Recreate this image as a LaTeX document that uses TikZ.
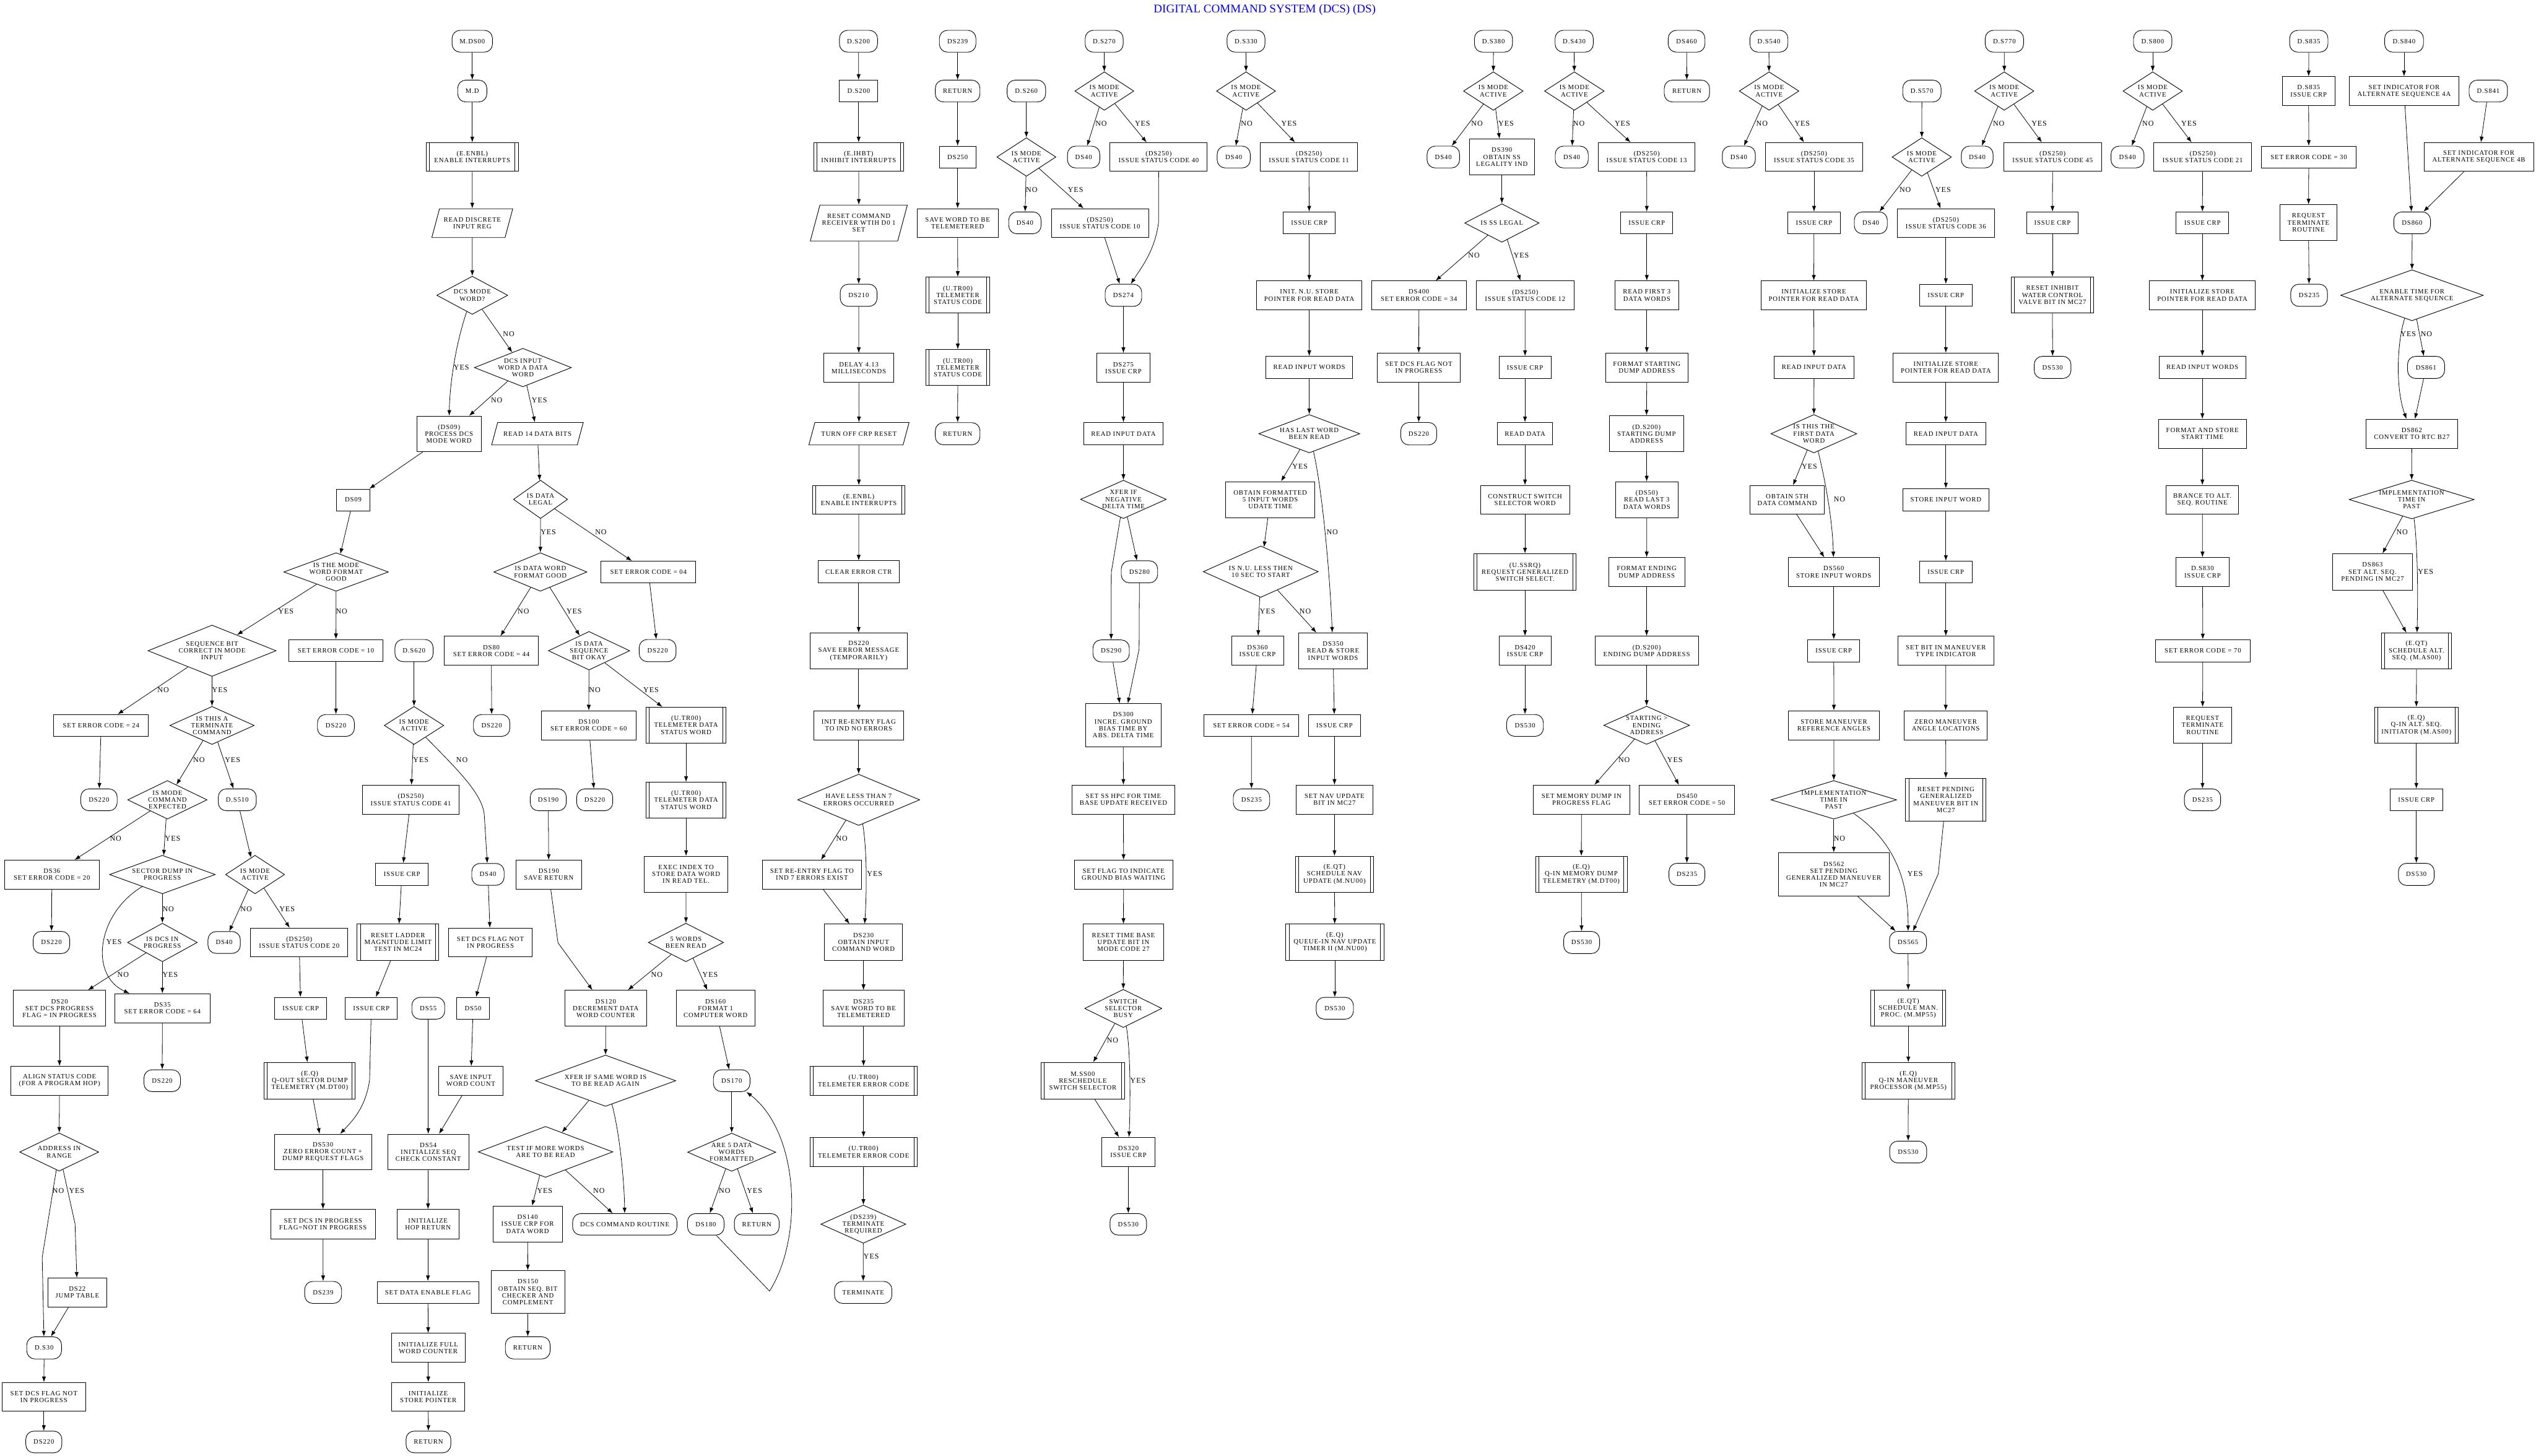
\documentclass[tikz,border=0pt]{standalone}
\usepackage{fontspec}
\setmainfont{Liberation Serif}[LetterSpace=8]
\newfontfamily\titlefont{Liberation Serif}
\usetikzlibrary{shapes.geometric,arrows.meta}
\tikzset{
 every node/.style={font=\fontsize{4.1}{4.3}\selectfont},
 nd/.style={draw,line width=0.35pt,inner sep=0pt,align=center},
 box/.style 2 args={nd,rectangle,minimum width=#1,minimum height=#2},
 pre/.style 2 args={box={#1}{#2},path picture={\draw[line width=0.35pt] ([xshift=2pt]path picture bounding box.north west) -- ([xshift=2pt]path picture bounding box.south west) ([xshift=-2pt]path picture bounding box.north east) -- ([xshift=-2pt]path picture bounding box.south east);}},
 term/.style 2 args={nd,rectangle,rounded corners=5pt,minimum width=#1,minimum height=#2},
 txt/.style={align=center,inner sep=0pt},
 dec/.style n args={3}{nd,diamond,minimum width=#1,minimum height=#2,label={[txt]center:{#3}}},
 io/.style n args={3}{draw,line width=0.35pt,inner sep=0pt,trapezium,trapezium left angle=75,trapezium right angle=105,text width=#1,text height=#2,text depth=0pt,label={[txt]center:{#3}}},
 lab/.style={font=\fontsize{4.6}{5}\selectfont,inner sep=0pt},
 arr/.style={line width=0.3pt,-{Latex[length=3.5pt,width=2.5pt]}},
}
\begin{document}
\begin{tikzpicture}[x=1pt,y=-1pt]
\useasboundingbox (0,0) rectangle (1568,900);
\node[font=\titlefont\fontsize{7.3}{8}\selectfont,text=blue,inner sep=0pt] (title) at (782,6) {DIGITAL COMMAND SYSTEM (DCS) (DS)};

% ---------------- main column
\node[term={25}{13.5}] (mds00) at (292,25.5) {M.DS00};
\node[term={18}{13.5}] (md) at (292,56.3) {M.D};
\node[pre={56.8}{17.8}] (enbl1) at (292,97.1) {(E.ENBL)\\ENABLE INTERRUPTS};
\node[io={40.5pt}{17.8pt}{READ DISCRETE\\INPUT REG}] (rdi) at (292,138) {};
\node[dec={43.9}{23.6}{DCS MODE\\WORD?}] (dmw) at (292,182.6) {};
\node[dec={60}{23.8}{DCS INPUT\\WORD A DATA\\WORD}] (dinw) at (323.3,227.3) {};
\node[box={39.8}{22}] (pds09) at (277.6,268.3) {(DS09)\\PROCESS DCS\\MODE WORD};
\node[io={49.2pt}{13.9pt}{READ 14 DATA BITS}] (r14) at (332.3,268.2) {};
\node[box={20.8}{13.4}] (ds09) at (218.4,309.1) {DS09};
\node[dec={33.5}{23.7}{IS DATA\\LEGAL}] (idl) at (334.2,308.8) {};
\node[dec={64.7}{23.8}{IS THE MODE\\WORD FORMAT\\GOOD}] (imwf) at (207.8,353.7) {};
\node[dec={57.6}{23.8}{IS DATA WORD\\FORMAT GOOD}] (idwf) at (334.1,353.7) {};
\node[box={58.7}{13.4}] (e04) at (400.9,353.7) {SET ERROR CODE = 04};
\node[dec={79.2}{31.7}{SEQUENCE BIT\\CORRECT IN MODE\\INPUT}] (sbc) at (131.1,402.4) {};
\node[box={58.4}{13.7}] (e10) at (207.7,402.3) {SET ERROR CODE = 10};
\node[term={23.6}{13.7}] (ds620) at (256,402.3) {D.S620};
\node[box={58.4}{17.9}] (ds80) at (303.8,402.4) {DS80\\SET ERROR CODE = 44};
\node[dec={50.3}{23.8}{IS DATA\\SEQUENCE\\BIT OKAY}] (idsb) at (364.2,402.4) {};
\node[term={22.8}{13.7}] (t220a) at (406.6,402.3) {DS220};
\node[pre={49.5}{22.2}] (utr1) at (424.2,448.4) {(U.TR00)\\TELEMETER DATA\\STATUS WORD};
\node[box={58.6}{13.5}] (e24) at (62.5,448.6) {SET ERROR CODE = 24};
\node[dec={52.2}{23.5}{IS THIS A\\TERMINATE\\COMMAND}] (itc) at (131.1,448.6) {};
\node[term={22.8}{13.5}] (t220b) at (207.7,448.6) {DS220};
\node[dec={36.8}{23.5}{IS MODE\\ACTIVE}] (ima620) at (256,448.6) {};
\node[term={22.5}{13.5}] (t220c) at (304,448.6) {DS220};
\node[box={58.5}{18}] (ds100) at (364,448.5) {DS100\\SET ERROR CODE = 60};
\node[term={22.5}{13.5}] (t220d) at (61.2,494.6) {DS220};
\node[dec={49.1}{23.8}{IS MODE\\COMMAND\\EXPECTED}] (imce) at (103.5,494.6) {};
\node[term={23.5}{13.5}] (ds510) at (146.7,494.6) {D.S510};
\node[box={60}{18}] (s41) at (254,494.5) {(DS250)\\ISSUE STATUS CODE 41};
\node[term={22.3}{13.5}] (t190) at (339,494.6) {DS190};
\node[term={22.3}{13.5}] (t220e) at (367.7,494.6) {DS220};
\node[pre={49.5}{22}] (utr2) at (424.2,494.7) {(U.TR00)\\TELEMETER DATA\\STATUS WORD};
\node[box={58.6}{17.8}] (ds36) at (32.1,540.8) {DS36\\SET ERROR CODE = 20};
\node[dec={65.4}{23.8}{SECTOR DUMP IN\\PROGRESS}] (sdp) at (100.4,540.8) {};
\node[dec={36.5}{23.8}{IS MODE\\ACTIVE}] (ima510) at (157.7,540.8) {};
\node[box={32.5}{13.7}] (crp41) at (248.5,540.7) {ISSUE CRP};
\node[term={20}{13.5}] (t40a) at (301.7,540.7) {DS40};
\node[box={40.6}{17.8}] (sr190) at (339.3,540.8) {DS190\\SAVE RETURN};
\node[box={51.5}{22.2}] (exec) at (424.2,540.6) {EXEC INDEX TO\\STORE DATA WORD\\IN READ TEL.};
\node[term={22.6}{13.7}] (t220f) at (31.8,582.8) {DS220};
\node[dec={43.1}{23.8}{IS DCS IN\\PROGRESS}] (idip) at (100.4,582.8) {};
\node[term={20}{13.5}] (t40b) at (138.6,582.8) {DS40};
\node[box={60}{17.8}] (s20) at (185,582.8) {(DS250)\\ISSUE STATUS CODE 20};
\node[pre={50.5}{22.4}] (rlm) at (246.1,582.7) {RESET LADDER\\MAGNITUDE LIMIT\\TEST IN MC24};
\node[box={51.5}{17.8}] (sdfn1) at (303.2,582.8) {SET DCS FLAG NOT\\IN PROGRESS};
\node[dec={46.6}{23.8}{5 WORDS\\BEEN READ}] (fwr) at (424.1,582.8) {};
\node[box={56.8}{22.2}] (ds20) at (36.8,623.5) {DS20\\SET DCS PROGRESS\\FLAG = IN PROGRESS};
\node[box={58.8}{18}] (ds35) at (100.4,623.5) {DS35\\SET ERROR CODE = 64};
\node[box={32.4}{13.5}] (crp20) at (185.9,623.5) {ISSUE CRP};
\node[box={32.2}{13.5}] (crplad) at (229.6,623.5) {ISSUE CRP};
\node[term={20.3}{13.5}] (t55) at (264.8,623.5) {DS55};
\node[box={20.5}{13.5}] (ds50) at (292.5,623.5) {DS50};
\node[box={50.6}{22.2}] (ds120) at (374.5,623.5) {DS120\\DECREMENT DATA\\WORD COUNTER};
\node[box={48.7}{22.2}] (ds160) at (442.4,623.5) {DS160\\FORMAT 1\\COMPUTER WORD};
\node[term={22.6}{13.5}] (t220g) at (100.3,668.3) {DS220};
\node[box={59.9}{17.8}] (align) at (36.8,668.3) {ALIGN STATUS CODE\\(FOR A PROGRAM HOP)};
\node[pre={56.3}{22.5}] (eqout) at (191.5,668.3) {(E.Q)\\Q-OUT SECTOR DUMP\\TELEMETRY (M.DT00)};
\node[box={39.5}{17.8}] (siwc) at (291.1,668.3) {SAVE INPUT\\WORD COUNT};
\node[dec={86.8}{31.7}{XFER IF SAME WORD IS\\TO BE READ AGAIN}] (xfer) at (374.4,668.3) {};
\node[term={22.6}{13.5}] (t170) at (452.4,668.3) {DS170};
\node[dec={48.9}{23.6}{ADDRESS IN\\RANGE}] (air) at (36.6,712.4) {};
\node[box={60.1}{22.1}] (ds530b) at (199.7,712.4) {DS530\\ZERO ERROR COUNT +\\DUMP REQUEST FLAGS};
\node[box={50.2}{22.1}] (ds54) at (264.8,712.4) {DS54\\INITIALIZE SEQ\\CHECK CONSTANT};
\node[dec={83.2}{31.5}{TEST IF MORE WORDS\\ARE TO BE READ}] (timw) at (337.3,712.3) {};
\node[dec={54.5}{23.6}{ARE 5 DATA\\WORDS\\FORMATTED}] (a5f) at (452.4,712.5) {};
\node[box={64.6}{18.2}] (sdnip) at (199.7,757) {SET DCS IN PROGRESS\\FLAG=NOT IN PROGRESS};
\node[box={38.3}{18.2}] (ihr) at (264.6,757) {INITIALIZE\\HOP RETURN};
\node[box={42.9}{22.4}] (ds140) at (326.2,757) {DS140\\ISSUE CRP FOR\\DATA WORD};
\node[term={64.5}{13.3}] (dcr) at (386.3,757.1) {DCS COMMAND ROUTINE};
\node[term={22.6}{13.3}] (t180) at (436.4,757.1) {DS180};
\node[term={27.7}{13.3}] (ret5) at (467.9,757.1) {RETURN};
\node[box={36.2}{17.8}] (ds22) at (47.8,799.2) {DS22\\JUMP TABLE};
\node[term={22.8}{13.6}] (t239b) at (199.8,799.2) {DS239};
\node[box={62.7}{13.6}] (sdef) at (264.6,799.2) {SET DATA ENABLE FLAG};
\node[box={45.6}{26.5}] (ds150) at (326.4,799) {DS150\\OBTAIN SEQ. BIT\\CHECKER AND\\COMPLEMENT};
\node[term={21.5}{13.7}] (ds30) at (27.3,833.5) {D.S30};
\node[box={45.7}{18}] (ifwc) at (264.8,833.5) {INITIALIZE FULL\\WORD COUNTER};
\node[term={27.7}{13.7}] (ret150) at (326.3,833.5) {RETURN};
\node[box={51.7}{17.8}] (sdfn2) at (27.1,863.8) {SET DCS FLAG NOT\\IN PROGRESS};
\node[box={45.1}{17.8}] (isp) at (264.8,863.8) {INITIALIZE\\STORE POINTER};
\node[term={22.3}{13.4}] (t220h) at (27.1,891.7) {DS220};
\node[term={27.7}{13.4}] (retisp) at (264.9,891.7) {RETURN};

% ---------------- D.S200 column
\node[term={23.5}{13.5}] (ds200t) at (530.8,25.5) {D.S200};
\node[box={23.8}{13.5}] (ds200b) at (530.9,56.3) {D.S200};
\node[pre={55.8}{17.8}] (ihbt) at (530.9,97.1) {(E.IHBT)\\INHIBIT INTERRUPTS};
\node[io={48.1pt}{22.2pt}{RESET COMMAND\\RECEIVER WTIH D0 1\\SET}] (rcr) at (531,137.9) {};
\node[term={22.8}{13.7}] (t210) at (530.9,182.6) {DS210};
\node[box={43.4}{18}] (delay) at (531,227.5) {DELAY 4.13\\MILLISECONDS};
\node[io={54.5pt}{13.9pt}{TURN OFF CRP RESET}] (tocr) at (531.1,268.2) {};
\node[pre={57}{17.8}] (enbl2) at (531,309.1) {(E.ENBL)\\ENABLE INTERRUPTS};
\node[box={50.2}{13.6}] (cec) at (530.9,353.6) {CLEAR ERROR CTR};
\node[box={59.8}{22.2}] (ds220s) at (530.9,402.5) {DS220\\SAVE ERROR MESSAGE\\(TEMPORARILY)};
\node[box={55.3}{18}] (ire) at (530.9,448.5) {INIT RE-ENTRY FLAG\\TO IND NO ERRORS};
\node[dec={75.5}{31.7}{HAVE LESS THAN 7\\ERRORS OCCURRED}] (hl7) at (530.9,494.6) {};
\node[box={61.1}{17.8}] (sre) at (502,540.8) {SET RE-ENTRY FLAG TO\\IND 7 ERRORS EXIST};
\node[box={48.2}{22.4}] (ds230) at (533.9,582.7) {DS230\\OBTAIN INPUT\\COMMAND WORD};
\node[box={50.2}{22.2}] (ds235s) at (533.9,623.5) {DS235\\SAVE WORD TO BE\\TELEMETERED};
\node[pre={66.4}{17.8}] (tec1) at (533.9,668.3) {(U.TR00)\\TELEMETER ERROR CODE};
\node[pre={66.4}{17.9}] (tec2) at (533.9,712.3) {(U.TR00)\\TELEMETER ERROR CODE};
\node[dec={52.5}{23.6}{(DS239)\\TERMINATE\\REQUIRED}] (trq) at (533.8,757) {};
\node[term={35.5}{13.6}] (termn) at (533.7,799.2) {TERMINATE};

% ---------------- DS239 column
\node[term={22.6}{13.5}] (t239) at (592.1,25.5) {DS239};
\node[term={27.6}{13.5}] (ret239) at (592.1,56.3) {RETURN};
\node[box={22.6}{13.5}] (ds250) at (592.1,97.1) {DS250};
\node[box={50}{17.9}] (swtb) at (592.1,138) {SAVE WORD TO BE\\TELEMETERED};
\node[pre={39.5}{22.2}] (tsc1) at (592.2,182.5) {(U.TR00)\\TELEMETER\\STATUS CODE};
\node[pre={39.5}{22.2}] (tsc2) at (592.2,227.3) {(U.TR00)\\TELEMETER\\STATUS CODE};
\node[term={27.6}{13.7}] (ret250) at (592.1,268.2) {RETURN};

% ---------------- D.S260 / D.S270 column
\node[term={23.8}{13.5}] (ds260) at (634.6,56.3) {D.S260};
\node[dec={36.5}{23.8}{IS MODE\\ACTIVE}] (ima260) at (634.6,97.1) {};
\node[term={20}{13.5}] (t40c) at (633.7,137.8) {DS40};
\node[box={60.1}{17.9}] (s10) at (680.1,138) {(DS250)\\ISSUE STATUS CODE 10};
\node[term={23.5}{13.5}] (ds270) at (682.7,25.5) {D.S270};
\node[dec={36.5}{23.8}{IS MODE\\ACTIVE}] (ima270) at (682.8,56.3) {};
\node[term={20}{13.5}] (t40d) at (670,97.1) {DS40};
\node[box={60.1}{17.8}] (s40) at (716.4,97.1) {(DS250)\\ISSUE STATUS CODE 40};
\node[term={22.6}{13.7}] (t274) at (694.6,182.6) {DS274};
\node[box={32.7}{18}] (ds275) at (694.6,227.5) {DS275\\ISSUE CRP};
\node[box={48.9}{13.9}] (rid270) at (694.6,268.2) {READ INPUT DATA};
\node[dec={53}{23.7}{XFER IF\\NEGATIVE\\DELTA TIME}] (xneg) at (694.6,308.8) {};
\node[term={22.5}{13.6}] (t280) at (704.5,353.6) {DS280};
\node[term={22.5}{13.6}] (t290) at (687,402.5) {DS290};
\node[box={46.7}{26.5}] (ds300) at (694.5,448.4) {DS300\\INCRE. GROUND\\BIAS TIME BY\\ABS. DELTA TIME};
\node[box={63.9}{18}] (sshpc) at (694.6,494.5) {SET SS HPC FOR TIME\\BASE UPDATE RECEIVED};
\node[box={60.8}{17.8}] (sfgb) at (694.7,540.8) {SET FLAG TO INDICATE\\GROUND BIAS WAITING};
\node[box={49.5}{22.4}] (rtb) at (694.6,582.7) {RESET TIME BASE\\UPDATE BIT IN\\MODE CODE 27};
\node[dec={47.7}{23.6}{SWITCH\\SELECTOR\\BUSY}] (ssb) at (694.5,623.6) {};
\node[pre={51.5}{22.5}] (mss) at (669.5,668.3) {M.SS00\\RESCHEDULE\\SWITCH SELECTOR};
\node[box={32.7}{17.9}] (ds320) at (697.7,712.3) {DS320\\ISSUE CRP};
\node[term={22.6}{13.3}] (t530c) at (697.6,757.1) {DS530};

% ---------------- D.S330 column
\node[term={23.5}{13.5}] (ds330) at (770.4,25.5) {D.S330};
\node[dec={36.5}{23.8}{IS MODE\\ACTIVE}] (ima330) at (770.4,56.3) {};
\node[term={20.5}{13.5}] (t40e) at (762.8,97.1) {DS40};
\node[box={60.2}{17.8}] (s11) at (809.3,97.1) {(DS250)\\ISSUE STATUS CODE 11};
\node[box={32.1}{13.5}] (crp11) at (809.5,137.8) {ISSUE CRP};
\node[box={65.1}{17.7}] (inu) at (809.5,182.6) {INIT. N.U. STORE\\POINTER FOR READ DATA};
\node[box={53.7}{13.7}] (riw330) at (809.5,227.2) {READ INPUT WORDS};
\node[dec={62.5}{23.7}{HAS LAST WORD\\BEEN READ}] (hlw) at (809.5,268.2) {};
\node[box={55.2}{22.3}] (of5) at (785.4,309) {OBTAIN FORMATTED\\5 INPUT WORDS\\UDATE TIME};
\node[dec={71.1}{31.8}{IS N.U. LESS THEN\\10 SEC TO START}] (inul) at (779.5,353.5) {};
\node[box={32.2}{17.9}] (ds360) at (777.5,402.4) {DS360\\ISSUE CRP};
\node[box={42.4}{22.2}] (ds350) at (824.2,402.5) {DS350\\READ \& STORE\\INPUT WORDS};
\node[box={58.6}{13.5}] (e54) at (773.7,448.6) {SET ERROR CODE = 54};
\node[box={32.1}{13.5}] (crp350) at (825.1,448.6) {ISSUE CRP};
\node[term={22.5}{13.5}] (t235a) at (773.8,494.6) {DS235};
\node[box={47.3}{18}] (snav) at (825.1,494.5) {SET NAV UPDATE\\BIT IN MC27};
\node[pre={48.3}{22.2}] (eqtnav) at (825.1,540.6) {(E.QT)\\SCHEDULE NAV\\UPDATE (M.NU00)};
\node[pre={60.6}{22.4}] (eqnav) at (825.3,582.7) {(E.Q)\\QUEUE-IN NAV UPDATE\\TIMER II (M.NU00)};
\node[term={23}{13.5}] (t530d) at (825.3,623.5) {DS530};

% ---------------- D.S380 column
\node[term={23.5}{13.5}] (ds380) at (923.4,25.5) {D.S380};
\node[dec={36.9}{23.8}{IS MODE\\ACTIVE}] (ima380) at (923.3,56.3) {};
\node[term={20.1}{13.5}] (t40f) at (892.4,97.1) {DS40};
\node[box={40.2}{22.2}] (ds390) at (928.6,97.1) {DS390\\OBTAIN SS\\LEGALITY IND};
\node[dec={46}{23.8}{IS SS LEGAL}] (issl) at (928.6,137.9) {};
\node[box={58.6}{17.7}] (ds400) at (877.3,182.6) {DS400\\SET ERROR CODE = 34};
\node[box={60.2}{17.7}] (s12) at (943,182.6) {(DS250)\\ISSUE STATUS CODE 12};
\node[box={51.6}{17.9}] (sdfn3) at (877.2,227.3) {SET DCS FLAG NOT\\IN PROGRESS};
\node[box={32.1}{13.7}] (crp12) at (942.9,227.2) {ISSUE CRP};
\node[term={22.2}{13.9}] (t220i) at (877.2,268.2) {DS220};
\node[box={34.3}{13.9}] (rdata) at (942.9,268.2) {READ DATA};
\node[box={55.1}{17.6}] (cssw) at (942.9,309) {CONSTRUCT SWITCH\\SELECTOR WORD};
\node[pre={63.1}{22.4}] (ussrq) at (942.9,353.6) {(U.SSRQ)\\REQUEST GENERALIZED\\SWITCH SELECT.};
\node[box={32.1}{17.9}] (ds420) at (942.9,402.4) {DS420\\ISSUE CRP};
\node[term={22.7}{13.5}] (t530e) at (942.9,448.6) {DS530};

% ---------------- D.S430 column
\node[term={23.6}{13.5}] (ds430) at (973.3,25.5) {D.S430};
\node[dec={36.9}{23.8}{IS MODE\\ACTIVE}] (ima430) at (973.4,56.3) {};
\node[term={20.4}{13.5}] (t40g) at (971.8,97.1) {DS40};
\node[box={59.9}{17.8}] (s13) at (1018.1,97.1) {(DS250)\\ISSUE STATUS CODE 13};
\node[box={32.2}{13.5}] (crp13) at (1018.2,137.8) {ISSUE CRP};
\node[box={39.5}{17.7}] (rf3) at (1018.2,182.6) {READ FIRST 3\\DATA WORDS};
\node[box={51}{17.9}] (fsda) at (1018.2,227.3) {FORMAT STARTING\\DUMP ADDRESS};
\node[box={46}{22.2}] (sda) at (1018,268.2) {(D.S200)\\STARTING DUMP\\ADDRESS};
\node[box={38.4}{22.1}] (rl3) at (1018.2,309) {(DS50)\\READ LAST 3\\DATA WORDS};
\node[box={47.1}{17.8}] (feda) at (1018.1,353.7) {FORMAT ENDING\\DUMP ADDRESS};
\node[box={63.9}{17.9}] (eda) at (1018.1,402.4) {(D.S200)\\ENDING DUMP ADDRESS};
\node[dec={53.1}{23.6}{STARTING >\\ENDING\\ADDRESS}] (sgte) at (1018.1,448.5) {};
\node[box={59.6}{18}] (smd) at (977.8,494.5) {SET MEMORY DUMP IN\\PROGRESS FLAG};
\node[box={58.9}{18}] (ds450) at (1043,494.5) {DS450\\SET ERROR CODE = 50};
\node[pre={56.7}{22.2}] (eqmd) at (977.7,540.6) {(E.Q)\\Q-IN MEMORY DUMP\\TELEMETRY (M.DT00)};
\node[term={22.2}{13.7}] (t235b) at (1043,540.7) {DS235};
\node[term={22.2}{13.7}] (t530f) at (977.9,582.8) {DS530};
\node[term={22.7}{13.5}] (t460) at (1042.8,25.5) {DS460};
\node[term={28}{13.5}] (ret460) at (1043,56.3) {RETURN};

% ---------------- D.S540 column
\node[term={23.5}{13.5}] (ds540) at (1093.7,25.5) {D.S540};
\node[dec={36.9}{23.8}{IS MODE\\ACTIVE}] (ima540) at (1093.8,56.3) {};
\node[term={20.4}{13.5}] (t40h) at (1075.1,97.1) {DS40};
\node[box={60.2}{17.8}] (s35) at (1121.6,97.1) {(DS250)\\ISSUE STATUS CODE 35};
\node[box={32.5}{13.5}] (crp35) at (1121.6,137.8) {ISSUE CRP};
\node[box={65.4}{17.7}] (isp540) at (1121.4,182.6) {INITIALIZE STORE\\POINTER FOR READ DATA};
\node[box={49.2}{13.7}] (rid540) at (1121.6,227.2) {READ INPUT DATA};
\node[dec={53.1}{23.7}{IS THIS THE\\FIRST DATA\\WORD}] (ifdw) at (1121.5,268.2) {};
\node[box={45.8}{17.6}] (o5dc) at (1105,309) {OBTAIN 5TH\\DATA COMMAND};
\node[box={56.2}{17.8}] (ds560) at (1133.8,353.7) {DS560\\STORE INPUT WORDS};
\node[box={32.2}{13.7}] (crp560) at (1133.8,402.4) {ISSUE CRP};
\node[box={56}{18}] (smra) at (1133.9,448.5) {STORE MANEUVER\\REFERENCE ANGLES};
\node[dec={77.7}{23.8}{IMPLEMENTATION\\TIME IN\\PAST}] (itp1) at (1133.8,494.6) {};
\node[box={68.3}{26.8}] (ds562) at (1133.8,540.7) {DS562\\SET PENDING\\GENERALIZED MANEUVER\\IN MC27};
\node[term={22.9}{13.7}] (t565) at (1179.7,582.8) {DS565};
\node[pre={46.3}{22.2}] (eqtman) at (1179.9,623.5) {(E.QT)\\SCHEDULE MAN.\\PROC. (M.MP55)};
\node[pre={57.4}{22.5}] (eqman) at (1179.9,668.3) {(E.Q)\\Q-IN MANEUVER\\PROCESSOR (M.MP55)};
\node[term={22.9}{13.5}] (t530g) at (1179.8,712.4) {DS530};

% ---------------- D.S570 column
\node[term={23.7}{13.5}] (ds570) at (1188.3,56.3) {D.S570};
\node[dec={36.7}{23.8}{IS MODE\\ACTIVE}] (ima570) at (1188.2,97.1) {};
\node[term={20.4}{13.5}] (t40i) at (1156.7,137.8) {DS40};
\node[box={60}{17.9}] (s36) at (1203.1,138) {(DS250)\\ISSUE STATUS CODE 36};
\node[box={32.4}{13.7}] (crp36) at (1203.1,182.6) {ISSUE CRP};
\node[box={65}{17.9}] (isp570) at (1203.1,227.3) {INITIALIZE STORE\\POINTER FOR READ DATA};
\node[box={49.2}{13.9}] (rid570) at (1203.1,268.2) {READ INPUT DATA};
\node[box={53.2}{13.6}] (siw) at (1203.1,309) {STORE INPUT WORD};
\node[box={32.4}{13.4}] (crp570) at (1203.1,353.7) {ISSUE CRP};
\node[box={59.4}{17.9}] (sbmt) at (1203.1,402.4) {SET BIT IN MANEUVER\\TYPE INDICATOR};
\node[box={51.5}{18}] (zmal) at (1203,448.5) {ZERO MANEUVER\\ANGLE LOCATIONS};
\node[pre={49.8}{26.6}] (rpgm) at (1203.1,494.6) {RESET PENDING\\GENERALIZED\\MANEUVER BIT IN\\MC27};

% ---------------- D.S770 column
\node[term={23.7}{13.5}] (ds770) at (1239.3,25.5) {D.S770};
\node[dec={36.7}{23.8}{IS MODE\\ACTIVE}] (ima770) at (1239.2,56.3) {};
\node[term={19.6}{13.5}] (t40j) at (1222.5,97.1) {DS40};
\node[box={60.4}{17.8}] (s45) at (1269.1,97.1) {(DS250)\\ISSUE STATUS CODE 45};
\node[box={32.1}{13.5}] (crp45) at (1269,137.8) {ISSUE CRP};
\node[pre={51}{22.2}] (riwc) at (1269,182.5) {RESET INHIBIT\\WATER CONTROL\\VALVE BIT IN MC27};
\node[term={22.7}{13.7}] (t530h) at (1269.1,227.2) {DS530};

% ---------------- D.S800 column
\node[term={23.7}{13.5}] (ds800) at (1331,25.5) {D.S800};
\node[dec={36.7}{23.8}{IS MODE\\ACTIVE}] (ima800) at (1331,56.3) {};
\node[term={20.4}{13.5}] (t40k) at (1315.4,97.1) {DS40};
\node[box={60.4}{17.8}] (s21) at (1361.9,97.1) {(DS250)\\ISSUE STATUS CODE 21};
\node[box={32.3}{13.5}] (crp21) at (1361.7,137.8) {ISSUE CRP};
\node[box={65.3}{17.7}] (isp800) at (1361.7,182.6) {INITIALIZE STORE\\POINTER FOR READ DATA};
\node[box={53.5}{13.7}] (riw800) at (1361.7,227.2) {READ INPUT WORDS};
\node[box={54.5}{17.9}] (fsst) at (1361.7,268.2) {FORMAT AND STORE\\START TIME};
\node[box={44.9}{17.6}] (brance) at (1361.7,309) {BRANCE TO ALT.\\SEQ. ROUTINE};
\node[box={32.6}{17.8}] (ds830) at (1361.8,353.7) {D.S830\\ISSUE CRP};
\node[box={58.6}{13.7}] (e70) at (1362,402.4) {SET ERROR CODE = 70};
\node[box={35.7}{22.2}] (rtr800) at (1361.8,448.4) {REQUEST\\TERMINATE\\ROUTINE};
\node[term={22.4}{13.5}] (t235c) at (1361.8,494.6) {DS235};

% ---------------- D.S835 column
\node[term={23.7}{13.5}] (ds835t) at (1427.5,25.5) {D.S835};
\node[box={32.4}{17.8}] (ds835b) at (1427.4,56.3) {D.S835\\ISSUE CRP};
\node[box={58.6}{13.5}] (e30) at (1427.5,97.1) {SET ERROR CODE = 30};
\node[box={35.2}{22.2}] (rtr835) at (1427.3,137.7) {REQUEST\\TERMINATE\\ROUTINE};
\node[term={22.7}{13.7}] (t235d) at (1427.7,182.6) {DS235};

% ---------------- D.S840 column
\node[term={24}{13.5}] (ds840) at (1486.4,25.5) {D.S840};
\node[box={67.8}{17.8}] (si4a) at (1486.4,56.3) {SET INDICATOR FOR\\ALTERNATE SEQUENCE 4A};
\node[term={23.7}{13.5}] (ds841) at (1538.5,56.3) {D.S841};
\node[box={67.8}{17.8}] (si4b) at (1532.6,97.1) {SET INDICATOR FOR\\ALTERNATE SEQUENCE 4B};
\node[term={22.7}{13.5}] (t860) at (1491.4,137.8) {DS860};
\node[dec={88.2}{31.5}{ENABLE TIME FOR\\ALTERNATE SEQUENCE}] (etas) at (1491.3,182.6) {};
\node[term={22.9}{13.7}] (t861) at (1500,227.2) {DS861};
\node[box={56.9}{17.9}] (ds862) at (1491.2,268.2) {DS862\\CONVERT TO RTC B27};
\node[dec={77.3}{23.9}{IMPLEMENTATION\\TIME IN\\PAST}] (itp2) at (1491.1,308.9) {};
\node[box={49.2}{22.4}] (ds863) at (1466.9,353.6) {DS863\\SET ALT. SEQ.\\PENDING IN MC27};
\node[pre={43.3}{22.2}] (eqtalt) at (1494.1,402.5) {(E.QT)\\SCHEDULE ALT.\\SEQ. (M.AS00)};
\node[pre={51.9}{22.2}] (eqalt) at (1494,448.4) {(E.Q)\\Q-IN ALT. SEQ.\\INITIATOR (M.AS00)};
\node[box={32.7}{13.5}] (crpalt) at (1494,494.6) {ISSUE CRP};
\node[term={22.1}{13.7}] (t530i) at (1494,540.7) {DS530};

% ================= connectors
% main column
\draw[arr] (mds00) -- (md);
\draw[arr] (md) -- (enbl1);
\draw[arr] (enbl1) -- (rdi);
\draw[arr] (rdi) -- (dmw);
\draw[arr] (dmw) .. controls (281,215) and (278,240) .. (pds09);
\draw[arr] (dmw) -- (dinw);
\draw[arr] (dinw) -- (pds09);
\draw[arr] (dinw) -- (r14);
\draw[arr] (pds09) -- (ds09);
\draw[arr] (r14) -- (idl);
\draw[arr] (ds09) -- (imwf);
\draw[arr] (idl) -- (idwf);
\draw[arr] (idl) -- (e04);
\draw[arr] (imwf) -- (sbc);
\draw[arr] (imwf) -- (e10);
\draw[arr] (idwf) -- (ds80);
\draw[arr] (idwf) -- (idsb);
\draw[arr] (e04) -- (t220a);
\draw[arr] (sbc) -- (e24);
\draw[arr] (sbc) -- (itc);
\draw[arr] (e10) -- (t220b);
\draw[arr] (ds620) -- (ima620);
\draw[arr] (ds80) -- (t220c);
\draw[arr] (idsb) -- (ds100);
\draw[arr] (idsb) -- (utr1);
\draw[arr] (e24) -- (t220d);
\draw[arr] (itc) -- (imce);
\draw[arr] (itc) -- (ds510);
\draw[arr] (ima620) -- (s41);
\draw[arr] (ima620) .. controls (285,478) and (299,492) .. (299.5,505) -- (t40a);
\draw[arr] (ds100) -- (t220e);
\draw[arr] (utr1) -- (utr2);
\draw[arr] (utr2) -- (exec);
\draw[arr] (exec) -- (fwr);
\draw[arr] (imce) -- (ds36);
\draw[arr] (imce) -- (sdp);
\draw[arr] (ds510) -- (ima510);
\draw[arr] (s41) -- (crp41);
\draw[arr] (t190) -- (sr190);
\draw[arr] (ds36) -- (t220f);
\draw[arr] (sdp) -- (idip);
\draw[arr] (sdp) .. controls (60,565) and (55,603) .. (ds35);
\draw[arr] (idip) -- (ds20);
\draw[arr] (idip) -- (ds35);
\draw[arr] (ima510) -- (t40b);
\draw[arr] (ima510) -- (s20);
\draw[arr] (crp41) -- (rlm);
\draw[arr] (t40a) -- (sdfn1);
\draw[arr] (sr190) -- (345,583) -- (ds120);
\draw[arr] (fwr) -- (ds120);
\draw[arr] (fwr) -- (ds160);
\draw[arr] (ds20) -- (align);
\draw[arr] (ds35) -- (t220g);
\draw[arr] (s20) -- (crp20);
\draw[arr] (crp20) -- (eqout);
\draw[arr] (rlm) -- (crplad);
\draw[arr] (crplad) -- (228.5,668) .. controls (226,685) and (218,693) .. (ds530b);
\draw[arr] (sdfn1) -- (ds50);
\draw[arr] (t55) -- (ds54);
\draw[arr] (ds50) -- (siwc);
\draw[arr] (ds120) -- (xfer);
\draw[arr] (ds160) -- (t170);
\draw[arr] (align) -- (air);
\draw[arr] (eqout) -- (ds530b);
\draw[arr] (siwc) -- (ds54);
\draw[arr] (xfer) -- (timw);
\draw[arr] (xfer) .. controls (383,700) and (386,730) .. (dcr);
\draw[arr] (t170) -- (a5f);
\draw[arr] (air) -- (26.1,777.5) -- (ds30);
\draw[arr] (air) -- (46.4,756.8) -- (ds22);
\draw[arr] (ds530b) -- (sdnip);
\draw[arr] (ds54) -- (ihr);
\draw[arr] (timw) -- (ds140);
\draw[arr] (timw) -- (dcr);
\draw[arr] (a5f) -- (t180);
\draw[arr] (a5f) -- (ret5);
\draw[arr] (t180) -- (475.8,798.4) .. controls (497,765) and (494,700) .. (t170);
\draw[arr] (sdnip) -- (t239b);
\draw[arr] (ihr) -- (sdef);
\draw[arr] (ds140) -- (ds150);
\draw[arr] (ds22) -- (ds30);
\draw[arr] (sdef) -- (ifwc);
\draw[arr] (ds150) -- (ret150);
\draw[arr] (ds30) -- (sdfn2);
\draw[arr] (ifwc) -- (isp);
\draw[arr] (sdfn2) -- (t220h);
\draw[arr] (isp) -- (retisp);
% D.S200 column
\draw[arr] (ds200t) -- (ds200b);
\draw[arr] (ds200b) -- (ihbt);
\draw[arr] (ihbt) -- (rcr);
\draw[arr] (rcr) -- (t210);
\draw[arr] (t210) -- (delay);
\draw[arr] (delay) -- (tocr);
\draw[arr] (tocr) -- (enbl2);
\draw[arr] (enbl2) -- (cec);
\draw[arr] (cec) -- (ds220s);
\draw[arr] (ds220s) -- (ire);
\draw[arr] (ire) -- (hl7);
\draw[arr] (hl7) -- (sre);
\draw[arr] (hl7) .. controls (536,525) and (536,550) .. (ds230);
\draw[arr] (sre) -- (ds230);
\draw[arr] (ds230) -- (ds235s);
\draw[arr] (ds235s) -- (tec1);
\draw[arr] (tec1) -- (tec2);
\draw[arr] (tec2) -- (trq);
\draw[arr] (trq) -- (termn);
% DS239 column
\draw[arr] (t239) -- (ret239);
\draw[arr] (ret239) -- (ds250);
\draw[arr] (ds250) -- (swtb);
\draw[arr] (swtb) -- (tsc1);
\draw[arr] (tsc1) -- (tsc2);
\draw[arr] (tsc2) -- (ret250);
% D.S260 / D.S270
\draw[arr] (ds260) -- (ima260);
\draw[arr] (ima260) -- (t40c);
\draw[arr] (ima260) -- (s10);
\draw[arr] (s10) -- (t274);
\draw[arr] (ds270) -- (ima270);
\draw[arr] (ima270) -- (t40d);
\draw[arr] (ima270) -- (s40);
\draw[arr] (s40) -- (716.3,137.7) .. controls (714,155) and (706,165) .. (t274);
\draw[arr] (t274) -- (ds275);
\draw[arr] (ds275) -- (rid270);
\draw[arr] (rid270) -- (xneg);
\draw[arr] (xneg) -- (687.1,353.9) -- (t290);
\draw[arr] (xneg) -- (t280);
\draw[arr] (t290) -- (ds300);
\draw[arr] (t280) -- (704.3,401.5) -- (ds300);
\draw[arr] (ds300) -- (sshpc);
\draw[arr] (sshpc) -- (sfgb);
\draw[arr] (sfgb) -- (rtb);
\draw[arr] (rtb) -- (ssb);
\draw[arr] (ssb) -- (mss);
\draw[arr] (ssb) .. controls (699,650) and (699,680) .. (ds320);
\draw[arr] (mss) -- (ds320);
\draw[arr] (ds320) -- (t530c);
% D.S330
\draw[arr] (ds330) -- (ima330);
\draw[arr] (ima330) -- (t40e);
\draw[arr] (ima330) -- (s11);
\draw[arr] (s11) -- (crp11);
\draw[arr] (crp11) -- (inu);
\draw[arr] (inu) -- (riw330);
\draw[arr] (riw330) -- (hlw);
\draw[arr] (hlw) -- (of5);
\draw[arr] (hlw) .. controls (817,300) and (822,350) .. (ds350);
\draw[arr] (of5) -- (inul);
\draw[arr] (inul) -- (ds360);
\draw[arr] (inul) -- (ds350);
\draw[arr] (ds360) -- (e54);
\draw[arr] (e54) -- (t235a);
\draw[arr] (ds350) -- (crp350);
\draw[arr] (crp350) -- (snav);
\draw[arr] (snav) -- (eqtnav);
\draw[arr] (eqtnav) -- (eqnav);
\draw[arr] (eqnav) -- (t530d);
% D.S380
\draw[arr] (ds380) -- (ima380);
\draw[arr] (ima380) -- (t40f);
\draw[arr] (ima380) -- (ds390);
\draw[arr] (ds390) -- (issl);
\draw[arr] (issl) -- (ds400);
\draw[arr] (issl) -- (s12);
\draw[arr] (ds400) -- (sdfn3);
\draw[arr] (sdfn3) -- (t220i);
\draw[arr] (s12) -- (crp12);
\draw[arr] (crp12) -- (rdata);
\draw[arr] (rdata) -- (cssw);
\draw[arr] (cssw) -- (ussrq);
\draw[arr] (ussrq) -- (ds420);
\draw[arr] (ds420) -- (t530e);
% D.S430
\draw[arr] (ds430) -- (ima430);
\draw[arr] (ima430) -- (t40g);
\draw[arr] (ima430) -- (s13);
\draw[arr] (s13) -- (crp13);
\draw[arr] (crp13) -- (rf3);
\draw[arr] (rf3) -- (fsda);
\draw[arr] (fsda) -- (sda);
\draw[arr] (sda) -- (rl3);
\draw[arr] (rl3) -- (feda);
\draw[arr] (feda) -- (eda);
\draw[arr] (eda) -- (sgte);
\draw[arr] (sgte) -- (smd);
\draw[arr] (sgte) -- (ds450);
\draw[arr] (smd) -- (eqmd);
\draw[arr] (eqmd) -- (t530f);
\draw[arr] (ds450) -- (t235b);
\draw[arr] (t460) -- (ret460);
% D.S540
\draw[arr] (ds540) -- (ima540);
\draw[arr] (ima540) -- (t40h);
\draw[arr] (ima540) -- (s35);
\draw[arr] (s35) -- (crp35);
\draw[arr] (crp35) -- (isp540);
\draw[arr] (isp540) -- (rid540);
\draw[arr] (rid540) -- (ifdw);
\draw[arr] (ifdw) -- (o5dc);
\draw[arr] (ifdw) .. controls (1128,295) and (1133,320) .. (ds560);
\draw[arr] (o5dc) -- (ds560);
\draw[arr] (ds560) -- (crp560);
\draw[arr] (crp560) -- (smra);
\draw[arr] (smra) -- (itp1);
\draw[arr] (itp1) -- (ds562);
\draw[arr] (itp1) .. controls (1168,518) and (1180,540) .. (t565);
\draw[arr] (ds562) -- (t565);
\draw[arr] (t565) -- (eqtman);
\draw[arr] (eqtman) -- (eqman);
\draw[arr] (eqman) -- (t530g);
% D.S570
\draw[arr] (ds570) -- (ima570);
\draw[arr] (ima570) -- (t40i);
\draw[arr] (ima570) -- (s36);
\draw[arr] (s36) -- (crp36);
\draw[arr] (crp36) -- (isp570);
\draw[arr] (isp570) -- (rid570);
\draw[arr] (rid570) -- (siw);
\draw[arr] (siw) -- (crp570);
\draw[arr] (crp570) -- (sbmt);
\draw[arr] (sbmt) -- (zmal);
\draw[arr] (zmal) -- (rpgm);
\draw[arr] (rpgm) -- (1198.4,540.4) -- (t565);
% D.S770
\draw[arr] (ds770) -- (ima770);
\draw[arr] (ima770) -- (t40j);
\draw[arr] (ima770) -- (s45);
\draw[arr] (s45) -- (crp45);
\draw[arr] (crp45) -- (riwc);
\draw[arr] (riwc) -- (t530h);
% D.S800
\draw[arr] (ds800) -- (ima800);
\draw[arr] (ima800) -- (t40k);
\draw[arr] (ima800) -- (s21);
\draw[arr] (s21) -- (crp21);
\draw[arr] (crp21) -- (isp800);
\draw[arr] (isp800) -- (riw800);
\draw[arr] (riw800) -- (fsst);
\draw[arr] (fsst) -- (brance);
\draw[arr] (brance) -- (ds830);
\draw[arr] (ds830) -- (e70);
\draw[arr] (e70) -- (rtr800);
\draw[arr] (rtr800) -- (t235c);
% D.S835
\draw[arr] (ds835t) -- (ds835b);
\draw[arr] (ds835b) -- (e30);
\draw[arr] (e30) -- (rtr835);
\draw[arr] (rtr835) -- (t235d);
% D.S840
\draw[arr] (ds840) -- (si4a);
\draw[arr] (si4a) -- (t860);
\draw[arr] (ds841) -- (si4b);
\draw[arr] (si4b) -- (t860);
\draw[arr] (t860) -- (etas);
\draw[arr] (etas) .. controls (1482,212) and (1481,240) .. (ds862);
\draw[arr] (etas) -- (t861);
\draw[arr] (t861) -- (ds862);
\draw[arr] (ds862) -- (itp2);
\draw[arr] (itp2) -- (ds863);
\draw[arr] (itp2) .. controls (1495,340) and (1495,370) .. (eqtalt);
\draw[arr] (ds863) -- (eqtalt);
\draw[arr] (eqtalt) -- (eqalt);
\draw[arr] (eqalt) -- (crpalt);
\draw[arr] (crpalt) -- (t530i);

% ================= edge labels
\node[lab] (l1) at (314.5,206.7) {NO};
\node[lab] (l2) at (285.3,227.3) {YES};
\node[lab] (l3) at (307.1,247.6) {NO};
\node[lab] (l4) at (333.5,247.6) {YES};
\node[lab] (l5) at (339,329.1) {YES};
\node[lab] (l6) at (371.5,329.1) {NO};
\node[lab] (l7) at (176.8,377.9) {YES};
\node[lab] (l8) at (211.2,377.9) {NO};
\node[lab] (l9) at (323.6,377.9) {NO};
\node[lab] (l10) at (355,377.9) {YES};
\node[lab] (l11) at (100.9,426.6) {NO};
\node[lab] (l12) at (135.9,426.6) {YES};
\node[lab] (l13) at (367.7,426.6) {NO};
\node[lab] (l14) at (402.5,426.6) {YES};
\node[lab] (l15) at (123,469.8) {NO};
\node[lab] (l16) at (143.8,469.8) {YES};
\node[lab] (l17) at (260.2,469.8) {YES};
\node[lab] (l18) at (285.6,469.8) {NO};
\node[lab] (l19) at (71.5,518.6) {NO};
\node[lab] (l20) at (106.8,518.6) {YES};
\node[lab] (l21) at (104,562) {NO};
\node[lab] (l22) at (152.2,562) {NO};
\node[lab] (l23) at (177.5,562) {YES};
\node[lab] (l24) at (70.5,582.6) {YES};
\node[lab] (l25) at (76.1,602.8) {NO};
\node[lab] (l26) at (105.2,602.8) {YES};
\node[lab] (l27) at (406.1,602.9) {NO};
\node[lab] (l28) at (439.1,602.9) {YES};
\node[lab] (l29) at (36,736.3) {NO};
\node[lab] (l30) at (47.4,736.3) {YES};
\node[lab] (l31) at (336.8,736.3) {YES};
\node[lab] (l32) at (370.3,736.3) {NO};
\node[lab] (l33) at (448,736.3) {NO};
\node[lab] (l34) at (466.5,736.3) {YES};
\node[lab] (l35) at (520.5,518.6) {NO};
\node[lab] (l36) at (540.8,540.4) {YES};
\node[lab] (l37) at (538.7,777) {YES};
\node[lab] (l38) at (637.9,117.3) {NO};
\node[lab] (l39) at (665,117.3) {YES};
\node[lab] (l40) at (680.8,76.5) {NO};
\node[lab] (l41) at (706.4,76.5) {YES};
\node[lab] (l42) at (687.9,643.5) {NO};
\node[lab] (l43) at (703.6,668.1) {YES};
\node[lab] (l44) at (770.8,76.5) {NO};
\node[lab] (l45) at (797,76.5) {YES};
\node[lab] (l46) at (803.8,288.4) {YES};
\node[lab] (l47) at (823.7,329.1) {NO};
\node[lab] (l48) at (783.7,377.9) {YES};
\node[lab] (l49) at (807,377.9) {NO};
\node[lab] (l50) at (913.2,76.5) {NO};
\node[lab] (l51) at (931.2,76.5) {YES};
\node[lab] (l52) at (911.3,158) {NO};
\node[lab] (l53) at (940.6,158) {YES};
\node[lab] (l54) at (976.2,76.5) {NO};
\node[lab] (l55) at (1003.1,76.5) {YES};
\node[lab] (l56) at (1004.2,469.8) {NO};
\node[lab] (l57) at (1035.6,469.8) {YES};
\node[lab] (l58) at (1089.4,76.5) {NO};
\node[lab] (l59) at (1114.3,76.5) {YES};
\node[lab] (l60) at (1118.8,288.4) {YES};
\node[lab] (l61) at (1137.3,308.7) {NO};
\node[lab] (l62) at (1137.3,518.6) {NO};
\node[lab] (l63) at (1184.1,540.4) {YES};
\node[lab] (l64) at (1178,117.3) {NO};
\node[lab] (l65) at (1201.4,117.3) {YES};
\node[lab] (l66) at (1235.8,76.5) {NO};
\node[lab] (l67) at (1260.8,76.5) {YES};
\node[lab] (l68) at (1328.1,76.5) {NO};
\node[lab] (l69) at (1353.4,76.5) {YES};
\node[lab] (l70) at (1489,206.7) {YES};
\node[lab] (l71) at (1500.2,206.7) {NO};
\node[lab] (l72) at (1485.2,329.1) {NO};
\node[lab] (l73) at (1499.7,353.5) {YES};
\end{tikzpicture}
\end{document}
